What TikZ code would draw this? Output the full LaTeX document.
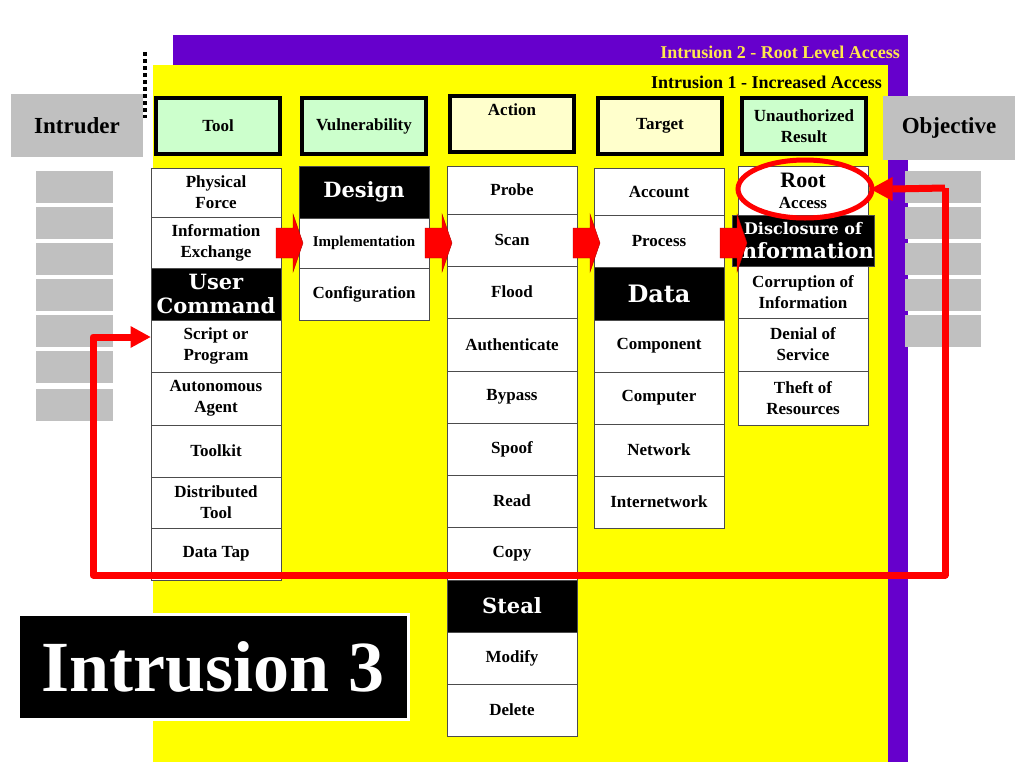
\documentclass[tikz,border=0pt]{standalone}
\usepackage{fontspec}
\setmainfont{Liberation Serif}
\newfontfamily\wide{DejaVu Serif}
\usetikzlibrary{arrows.meta,shapes.geometric}
\definecolor{purp}{HTML}{6600CC}
\definecolor{yel}{HTML}{FFFF00}
\definecolor{lgreen}{HTML}{CCFFCC}
\definecolor{lyel}{HTML}{FFFFCC}
\definecolor{gry}{HTML}{C0C0C0}
\definecolor{redc}{HTML}{FF0000}
\definecolor{titley}{HTML}{FFE84D}
\tikzset{
  cellstyle/.style={draw=black!70, line width=1pt, fill=white, inner sep=0pt, align=center,
    font=\fontsize{17}{21}\selectfont\bfseries},
  blackcell/.style={cellstyle, fill=black, text=white, font=\fontsize{21}{24}\selectfont\wide\bfseries},
  headbox/.style={draw=black, line width=4pt, inner sep=0pt, align=center, minimum width=124pt, minimum height=56pt,
    font=\fontsize{17}{21}\selectfont\bfseries},
  graybox/.style={fill=gry, inner sep=0pt},
  blockarrow/.style={fill=redc, draw=redc!70!black, line width=0.4pt},
  loop/.style={draw=redc, line width=7pt, line join=round},
}
\newcommand\cellbox[6]{\node[#6, minimum width=130pt, minimum height={(#4-#3)*1pt}] (#1) at (#2,{(#3+#4)/2}) {#5};}
\begin{document}
\begin{tikzpicture}[x=1pt,y=-1pt]
\useasboundingbox (0,0) rectangle (1024,768);
\fill[white] (0,0) rectangle (1024,768);
% frames
\fill[purp] (173,35) rectangle (908,762);
\fill[yel] (153,65) rectangle (888,762);
\node[anchor=east, text=titley, font=\fontsize{18}{20}\selectfont\bfseries, inner sep=0pt] (t2) at (900,52) {Intrusion 2 - Root Level Access};
\node[anchor=east, font=\fontsize{18}{20}\selectfont\bfseries, inner sep=0pt] (t1) at (882,82) {Intrusion 1 - Increased Access};
\draw[line width=4pt, dash pattern=on 4pt off 3pt] (145,52) -- (145,118);
% gray boxes
\node[graybox, minimum width=132pt, minimum height=63pt, font=\fontsize{23}{26}\selectfont\bfseries] (intruder) at (77,125.5) {Intruder};
\node[graybox, minimum width=132pt, minimum height=64pt, font=\fontsize{23}{26}\selectfont\bfseries] (objective) at (949,128) {Objective};
\foreach \i/\y in {1/171,2/207,3/243,4/279,5/315,6/351,7/389}{
  \node[graybox, minimum width=77pt, minimum height=32pt] (gl\i) at (74.5,\y+16) {};}
\foreach \i/\y in {1/171,2/207,3/243,4/279,5/315}{
  \node[graybox, minimum width=76pt, minimum height=32pt] (gr\i) at (943,\y+16) {};}
% headers
\node[headbox, fill=lgreen] (htool) at (218,126) {Tool};
\node[headbox, fill=lgreen] (hvul) at (364,126) {Vulnerability};
\node[headbox, fill=lyel] (hact) at (512,124) {Action\\[8pt]};
\node[headbox, fill=lyel] (htar) at (660,126) {Target};
\node[headbox, fill=lgreen] (hres) at (804,126) {Unauthorized\\Result};
% tool column
\cellbox{c1}{216}{168}{217}{Physical\\Force}{cellstyle}
\cellbox{c2}{216}{217}{268}{Information\\Exchange}{cellstyle}
\cellbox{c3}{216}{268}{320}{User\\Command}{blackcell}
\cellbox{c4}{216}{320}{372}{Script or\\Program}{cellstyle}
\cellbox{c5}{216}{372}{425}{Autonomous\\Agent}{cellstyle}
\cellbox{c6}{216}{425}{477}{Toolkit}{cellstyle}
\cellbox{c7}{216}{477}{528}{Distributed\\Tool}{cellstyle}
\cellbox{c8}{216}{528}{580}{Data Tap}{cellstyle}
% vulnerability
\cellbox{v1}{364}{166}{218}{Design}{blackcell}
\cellbox{v2}{364}{218}{268}{\fontsize{15}{18}\selectfont Implementation}{cellstyle}
\cellbox{v3}{364}{268}{320}{Configuration}{cellstyle}
% action
\cellbox{a1}{512}{166}{214}{Probe}{cellstyle}
\cellbox{a2}{512}{214}{266}{Scan}{cellstyle}
\cellbox{a3}{512}{266}{318}{Flood}{cellstyle}
\cellbox{a4}{512}{318}{371}{Authenticate}{cellstyle}
\cellbox{a5}{512}{371}{423}{Bypass}{cellstyle}
\cellbox{a6}{512}{423}{475}{Spoof}{cellstyle}
\cellbox{a7}{512}{475}{527}{Read}{cellstyle}
\cellbox{a8}{512}{527}{580}{Copy}{cellstyle}
\cellbox{a9}{512}{580}{632}{Steal}{blackcell}
\cellbox{a10}{512}{632}{684}{Modify}{cellstyle}
\cellbox{a11}{512}{684}{736}{Delete}{cellstyle}
% target
\cellbox{g1}{659}{168}{215}{Account}{cellstyle}
\cellbox{g2}{659}{215}{267}{Process}{cellstyle}
\cellbox{g3}{659}{267}{320}{\fontsize{24}{26}\selectfont Data}{blackcell}
\cellbox{g4}{659}{320}{372}{Component}{cellstyle}
\cellbox{g5}{659}{372}{424}{Computer}{cellstyle}
\cellbox{g6}{659}{424}{476}{Network}{cellstyle}
\cellbox{g7}{659}{476}{528}{Internetwork}{cellstyle}
% result
\cellbox{r1}{803}{166}{215}{\fontsize{22}{28}\selectfont Root\\Access}{cellstyle}
\cellbox{r2}{803}{215}{266}{\fontsize{16}{22}\selectfont Disclosure of\\Information}{blackcell}
\cellbox{r3}{803}{266}{318}{Corruption of\\Information}{cellstyle}
\cellbox{r4}{803}{318}{371}{Denial of\\Service}{cellstyle}
\cellbox{r5}{803}{371}{425}{Theft of\\Resources}{cellstyle}
% block arrows
\foreach \x in {276,425,573,720}{
  \filldraw[blockarrow] (\x,228) -- (\x+17,228) -- (\x+17,214) -- (\x+27,243) -- (\x+17,272) -- (\x+17,258) -- (\x,258) -- cycle;}
% intrusion 3
\node[fill=black, draw=white, line width=3pt, text=white, minimum width=390pt, minimum height=105pt, inner sep=0pt,
  font=\fontsize{72}{76}\selectfont\bfseries] (i3) at (213,667) {Intrusion 3};
% ellipse and loop
\node[draw=redc, line width=5pt, ellipse, minimum width=134pt, minimum height=58pt, inner sep=0pt] (ell) at (805,189) {};
\coordinate (lstart) at (945,188);
\coordinate (ltarget) at (c4.west);
\draw[loop] (lstart) -- (945,575) -- (93,575) -- (93,337) -- ([xshift=-18pt]ltarget|-93,337);
\fill[redc] ([xshift=-20pt]ltarget|-93,337) ++(0,-11) -- ++(20,11) -- ++(-20,11) -- cycle;
\draw[loop] (lstart) -- ([xshift=18pt]ell.east);
\fill[redc] ([xshift=-4pt]ell.east) -- ++(22,-12) -- ++(0,24) -- cycle;
\end{tikzpicture}
\end{document}
